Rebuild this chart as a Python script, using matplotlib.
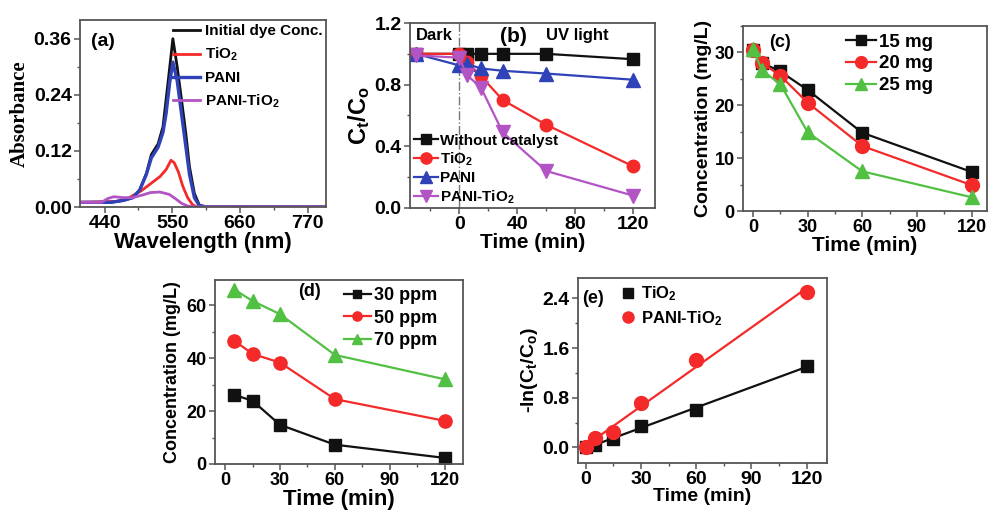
"""Five-panel photocatalysis figure: UV-vis spectra, Ct/Co kinetics,
catalyst dose, initial concentration and pseudo-first-order fits."""

import matplotlib
matplotlib.use("Agg")
import matplotlib.pyplot as plt
import numpy as np
from matplotlib.ticker import AutoMinorLocator

plt.rcParams["font.family"] = ["Liberation Sans", "DejaVu Sans"]
plt.rcParams["font.weight"] = "bold"
plt.rcParams["axes.labelweight"] = "bold"
plt.rcParams["mathtext.fontset"] = "custom"
plt.rcParams["mathtext.default"] = "bf"
plt.rcParams["mathtext.bf"] = "Liberation Sans:bold"
plt.rcParams["mathtext.rm"] = "Liberation Sans:bold"

BLACK = "#111111"
RED = "#f42a2a"
BLUE = "#2f42b8"
MAGENTA = "#b354c4"
GREEN = "#52c043"
FRAME = "#555555"

# (a) UV-vis spectra
wl_dye = [400, 450, 470, 486, 497, 508, 516, 527, 535, 540, 546, 551, 558, 565,
          572, 578, 586, 594, 605, 800]
abs_dye = [0.010, 0.010, 0.014, 0.020, 0.036, 0.072, 0.112, 0.135, 0.172, 0.230,
           0.300, 0.360, 0.300, 0.230, 0.158, 0.086, 0.029, 0.004, 0.0, 0.0]
wl_pani = [400, 450, 470, 486, 497, 508, 516, 527, 535, 540, 546, 551, 558, 565,
           572, 578, 586, 594, 605, 800]
abs_pani = [0.010, 0.010, 0.014, 0.020, 0.036, 0.070, 0.105, 0.128, 0.160, 0.200,
            0.268, 0.310, 0.270, 0.200, 0.130, 0.070, 0.020, 0.003, 0.0, 0.0]
wl_tio2 = [400, 460, 480, 500, 515, 530, 540, 548, 553, 560, 567, 575, 583, 590, 800]
abs_tio2 = [0.010, 0.012, 0.020, 0.035, 0.050, 0.065, 0.080, 0.100, 0.095, 0.075,
            0.045, 0.020, 0.005, 0.0, 0.0]
wl_pt = [400, 435, 445, 455, 470, 485, 500, 515, 530, 545, 555, 565, 575, 590, 800]
abs_pt = [0.010, 0.010, 0.018, 0.022, 0.020, 0.020, 0.025, 0.031, 0.032, 0.027,
          0.018, 0.008, 0.002, 0.0, 0.0]

# (b) Ct/Co vs time, dark then UV
t_b = [-30, 0, 5, 15, 30, 60, 120]
ct_none = [1.0, 1.0, 1.0, 1.0, 1.0, 1.0, 0.965]
ct_tio2 = [1.0, 1.0, 0.95, 0.855, 0.70, 0.54, 0.27]
ct_pani = [1.0, 0.925, 0.935, 0.905, 0.89, 0.872, 0.832]
ct_pt = [0.99, 0.975, 0.865, 0.78, 0.49, 0.24, 0.08]

# (c) catalyst dose
t_c = [0, 5, 15, 30, 60, 120]
conc_15 = [30.5, 28.0, 26.4, 22.9, 14.8, 7.4]
conc_20 = [30.5, 28.0, 25.6, 20.5, 12.3, 4.9]
conc_25 = [30.6, 26.6, 24.0, 14.9, 7.5, 2.6]

# (d) initial dye concentration
t_d = [5, 15, 30, 60, 120]
conc_30 = [26.1, 23.9, 14.8, 7.3, 2.3]
conc_50 = [46.6, 41.6, 38.3, 24.5, 16.3]
conc_70 = [65.9, 61.6, 56.6, 41.2, 32.0]

# (e) -ln(Ct/Co)
t_e = [0, 5, 15, 30, 60, 120]
ln_tio2 = [0.0, 0.04, 0.13, 0.35, 0.61, 1.31]
ln_pt = [0.0, 0.15, 0.25, 0.72, 1.41, 2.51]


def style_axes(ax, labelsize=14):
    for s in ax.spines.values():
        s.set_color(FRAME)
        s.set_linewidth(1.3)
    ax.tick_params(which="major", direction="out", length=4, width=1.1,
                   color=FRAME, labelsize=labelsize, pad=2)
    ax.tick_params(which="minor", direction="out", length=2.5, width=1.0,
                   color=FRAME)
    ax.tick_params(top=False, right=False)
    ax.xaxis.set_minor_locator(AutoMinorLocator(2))
    ax.yaxis.set_minor_locator(AutoMinorLocator(2))
    for lab in ax.get_xticklabels() + ax.get_yticklabels():
        lab.set_fontweight("bold")


fig = plt.figure(figsize=(9.88, 5.12), dpi=100)


def add_axes(left, top, right, bottom):
    W, H = 988.0, 512.0
    return fig.add_axes([left / W, 1 - bottom / H, (right - left) / W, (bottom - top) / H])


# ---- (a)
ax = add_axes(80, 20, 326, 207)
ax.plot(wl_dye, abs_dye, color=BLACK, lw=2, label="Initial dye Conc.")
ax.plot(wl_tio2, abs_tio2, color=RED, lw=2, label="TiO$_2$")
ax.plot(wl_pani, abs_pani, color=BLUE, lw=2.4, label="PANI")
ax.plot(wl_pt, abs_pt, color=MAGENTA, lw=2, label="PANI-TiO$_2$")
ax.set_xlim(400, 800)
ax.set_ylim(0, 0.40)
ax.set_xticks([440, 550, 660, 770])
ax.set_yticks([0.0, 0.12, 0.24, 0.36])
ax.yaxis.set_major_formatter(plt.FormatStrFormatter("%.2f"))
style_axes(ax)
ax.set_xlabel("Wavelength (nm)", fontsize=16, labelpad=0)
ax.set_ylabel("Absorbance", fontsize=15, family=["Liberation Serif"], labelpad=3)
ax.text(418, 0.355, "(a)", fontsize=14, fontweight="bold", va="center")
ax.legend(loc="upper right", bbox_to_anchor=(1.01, 1.01), frameon=False,
          fontsize=11, handlelength=1.8, handletextpad=0.3, labelspacing=0.5,
          borderaxespad=0)

# ---- (b)
ax = add_axes(410, 23, 655, 208)
ax.axvline(0, color="#777777", lw=1, ls="-.")
ax.plot(t_b, ct_none, color=BLACK, marker="s", ms=8.5, lw=1.6, label="Without catalyst")
ax.plot(t_b, ct_tio2, color=RED, marker="o", ms=9, lw=1.6, label="TiO$_2$")
ax.plot(t_b, ct_pani, color=BLUE, marker="^", ms=9.5, lw=1.6, label="PANI")
ax.plot(t_b, ct_pt, color=MAGENTA, marker="v", ms=9.5, lw=1.6, label="PANI-TiO$_2$")
ax.set_xlim(-34, 135)
ax.set_ylim(0, 1.2)
ax.set_xticks([0, 40, 80, 120])
ax.set_yticks([0.0, 0.4, 0.8, 1.2])
style_axes(ax)
ax.set_xlabel("Time (min)", fontsize=15, labelpad=0)
ax.set_ylabel("C$_t$/C$_o$", fontsize=17, labelpad=2)
ax.text(-30, 1.12, "Dark", fontsize=12, fontweight="bold", va="center")
ax.text(28, 1.11, "(b)", fontsize=15, fontweight="bold", va="center")
ax.text(60, 1.12, "UV light", fontsize=12, fontweight="bold", va="center")
ax.legend(loc="lower left", bbox_to_anchor=(-0.01, -0.02), frameon=False,
          fontsize=11, handlelength=1.6, handletextpad=0.1, labelspacing=0.2,
          borderaxespad=0, markerscale=0.9)

# ---- (c)
ax = add_axes(743, 26, 987, 211)
ax.plot(t_c, conc_15, color=BLACK, marker="s", ms=9, lw=1.6, label="15 mg")
ax.plot(t_c, conc_20, color=RED, marker="o", ms=10, lw=1.6, label="20 mg")
ax.plot(t_c, conc_25, color=GREEN, marker="^", ms=10, lw=1.6, label="25 mg")
ax.set_xlim(-5.5, 128.5)
ax.set_ylim(0, 35)
ax.set_xticks([0, 30, 60, 90, 120])
ax.set_yticks([0, 10, 20, 30])
style_axes(ax, labelsize=13)
ax.set_xlabel("Time (min)", fontsize=15, labelpad=0)
ax.set_ylabel("Concentration (mg/L)", fontsize=14, labelpad=2)
ax.text(9, 31.9, "(c)", fontsize=13, fontweight="bold", va="center")
ax.legend(loc="upper left", bbox_to_anchor=(0.39, 1.0), frameon=False,
          fontsize=13.5, handlelength=1.6, handletextpad=0.2, labelspacing=0.25,
          borderaxespad=0, markerscale=0.85)

# ---- (d)
ax = add_axes(215, 280, 463, 464)
ax.plot(t_d, conc_30, color=BLACK, marker="s", ms=8, lw=1.6, label="30 ppm")
ax.plot(t_d, conc_50, color=RED, marker="o", ms=9.5, lw=1.6, label="50 ppm")
ax.plot(t_d, conc_70, color=GREEN, marker="^", ms=10, lw=1.6, label="70 ppm")
ax.set_xlim(-5.5, 130)
ax.set_ylim(0, 69.5)
ax.set_xticks([0, 30, 60, 90, 120])
ax.set_yticks([0, 20, 40, 60])
style_axes(ax, labelsize=13)
ax.set_xlabel("Time (min)", fontsize=16, labelpad=0)
ax.set_ylabel("Concentration (mg/L)", fontsize=13, labelpad=4)
ax.text(40, 65, "(d)", fontsize=13, fontweight="bold", va="center")
ax.legend(loc="upper left", bbox_to_anchor=(0.49, 1.0), frameon=False,
          fontsize=13, handlelength=1.5, handletextpad=0.2, labelspacing=0.3,
          borderaxespad=0, markerscale=0.7)

# ---- (e)
ax = add_axes(578, 278, 827, 463)
fit_tio2 = np.polyfit(t_e, ln_tio2, 1)
fit_pt = np.polyfit(t_e, ln_pt, 1)
t_fit = np.array([t_e[0], t_e[-1]])
ax.plot(t_fit, np.polyval(fit_tio2, t_fit), color=BLACK, lw=1.6)
ax.plot(t_fit, np.polyval(fit_pt, t_fit), color=RED, lw=1.6)
ax.plot(t_e, ln_tio2, color=BLACK, marker="s", ms=9, ls="none", label="TiO$_2$")
ax.plot(t_e, ln_pt, color=RED, marker="o", ms=10, ls="none", label="PANI-TiO$_2$")
ax.set_xlim(-4.2, 131)
ax.set_ylim(-0.25, 2.73)
ax.set_xticks([0, 30, 60, 90, 120])
ax.set_yticks([0.0, 0.8, 1.6, 2.4])
ax.yaxis.set_major_formatter(plt.FormatStrFormatter("%.1f"))
style_axes(ax)
ax.set_xlabel("Time (min)", fontsize=14, labelpad=0)
ax.set_ylabel("-ln(C$_t$/C$_o$)", fontsize=14, labelpad=2)
ax.text(-2, 2.4, "(e)", fontsize=13, fontweight="bold", va="center")
ax.legend(loc="upper left", bbox_to_anchor=(0.14, 1.0), frameon=False,
          fontsize=12, handlelength=1.0, handletextpad=0.3, labelspacing=0.35,
          borderaxespad=0, markerscale=0.8)

fig.savefig("out.png", dpi=100)
